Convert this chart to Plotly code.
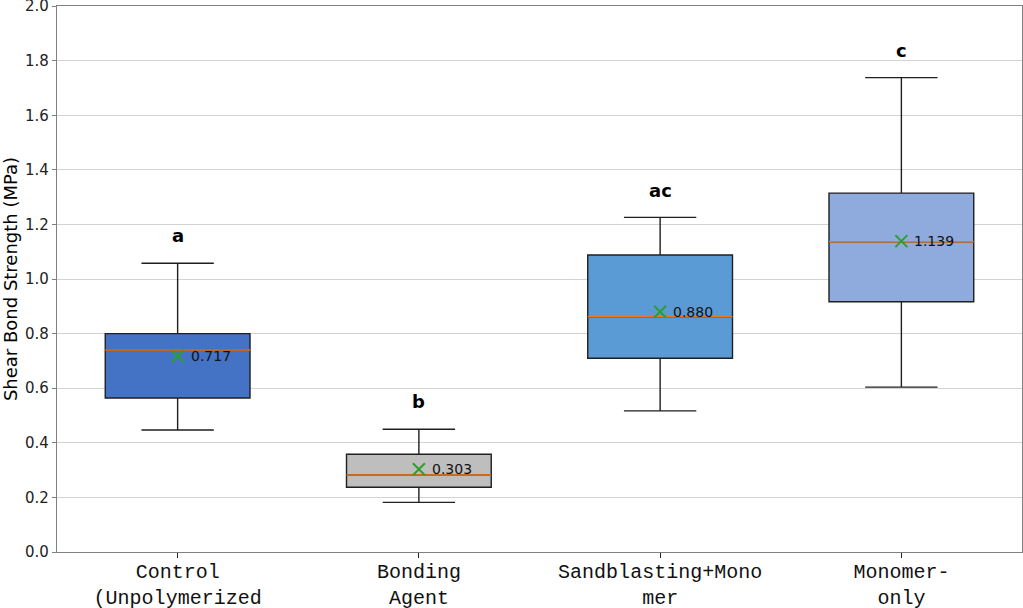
import plotly.graph_objects as go

categories = ["Control<br>(Unpolymerized", "Bonding<br>Agent", "Sandblasting+Mono<br>mer", "Monomer-<br>only"]
q1 = [0.564, 0.237, 0.710, 0.917]
median = [0.740, 0.282, 0.862, 1.137]
q3 = [0.800, 0.358, 1.088, 1.315]
lower_whisker = [0.447, 0.182, 0.517, 0.604]
upper_whisker = [1.058, 0.450, 1.226, 1.738]
means = [0.717, 0.303, 0.880, 1.139]
letters = ["a", "b", "ac", "c"]
colors = ["#4472C4", "#BEBEBE", "#5B9BD5", "#8FAADC"]
y_ticks = [0, 0.2, 0.4, 0.6, 0.8, 1.0, 1.2, 1.4, 1.6, 1.8, 2.0]

box_w = 0.6
fig = go.Figure()
for i in range(len(categories)):
    fig.add_trace(go.Box(
        x=[i], q1=[q1[i]], median=[median[i]], q3=[q3[i]],
        lowerfence=[lower_whisker[i]], upperfence=[upper_whisker[i]],
        width=box_w, whiskerwidth=0.5, fillcolor=colors[i],
        line=dict(color="#1f1f1f", width=1.4), boxpoints=False,
        showlegend=False, hoverinfo="skip"))
    fig.add_trace(go.Scatter(
        x=[i - box_w / 2, i + box_w / 2], y=[median[i], median[i]],
        mode="lines", line=dict(color="#f07818", width=1.4),
        showlegend=False, hoverinfo="skip"))
    fig.add_annotation(
        x=i, y=means[i], text=f"{means[i]:.3f}", showarrow=False,
        xanchor="left", yanchor="middle", xshift=11,
        font=dict(family="DejaVu Sans", size=14, color="#111"))
    fig.add_annotation(
        x=i, y=upper_whisker[i] + 0.1, text=f"<b>{letters[i]}</b>", showarrow=False,
        xanchor="center", yanchor="middle",
        font=dict(family="DejaVu Sans", size=18, color="black"))

fig.add_trace(go.Scatter(
    x=list(range(len(categories))), y=means, mode="markers",
    marker=dict(symbol="x-thin", size=12, line=dict(color="#2ca02c", width=2)),
    showlegend=False, hoverinfo="skip"))

# top tick label (Plotly hides it because it touches the page edge)
fig.add_annotation(
    xref="paper", x=0, y=y_ticks[-1], text=f"{y_ticks[-1]:.1f}", showarrow=False,
    xanchor="right", yanchor="middle", xshift=-6,
    font=dict(family="DejaVu Sans", size=15, color="#222"))

fig.update_layout(
    width=1023, height=608,
    margin=dict(l=56.5, r=1, t=5.5, b=56, autoexpand=False),
    paper_bgcolor="white", plot_bgcolor="white",
    font=dict(family="DejaVu Sans", color="black"),
)
fig.update_xaxes(
    range=[-0.5, 3.5], tickmode="array", tickvals=list(range(len(categories))),
    ticktext=categories, tickfont=dict(family="Liberation Mono", size=20, color="#111"),
    ticklabelstandoff=-4,
    showgrid=False, zeroline=False, showline=True, linecolor="#808080", linewidth=1.2,
    mirror=True, ticks="outside", ticklen=5, tickcolor="#222", tickwidth=1.2)
fig.update_yaxes(
    range=[0, 2.0005], tickmode="array", tickvals=y_ticks,
    tickformat=".1f",
    tickfont=dict(family="DejaVu Sans", size=15, color="#222"),
    title=dict(text="Shear Bond Strength (MPa)", font=dict(family="DejaVu Sans", size=18), standoff=6),
    showgrid=True, gridcolor="#d3d3d3", gridwidth=1, zeroline=False,
    showline=True, linecolor="#808080", linewidth=1.2, mirror=True,
    ticks="outside", ticklen=4, tickcolor="#808080")

fig.write_html("out.html", config={"displayModeBar": False},
               post_script="document.body.style.margin='0';")
